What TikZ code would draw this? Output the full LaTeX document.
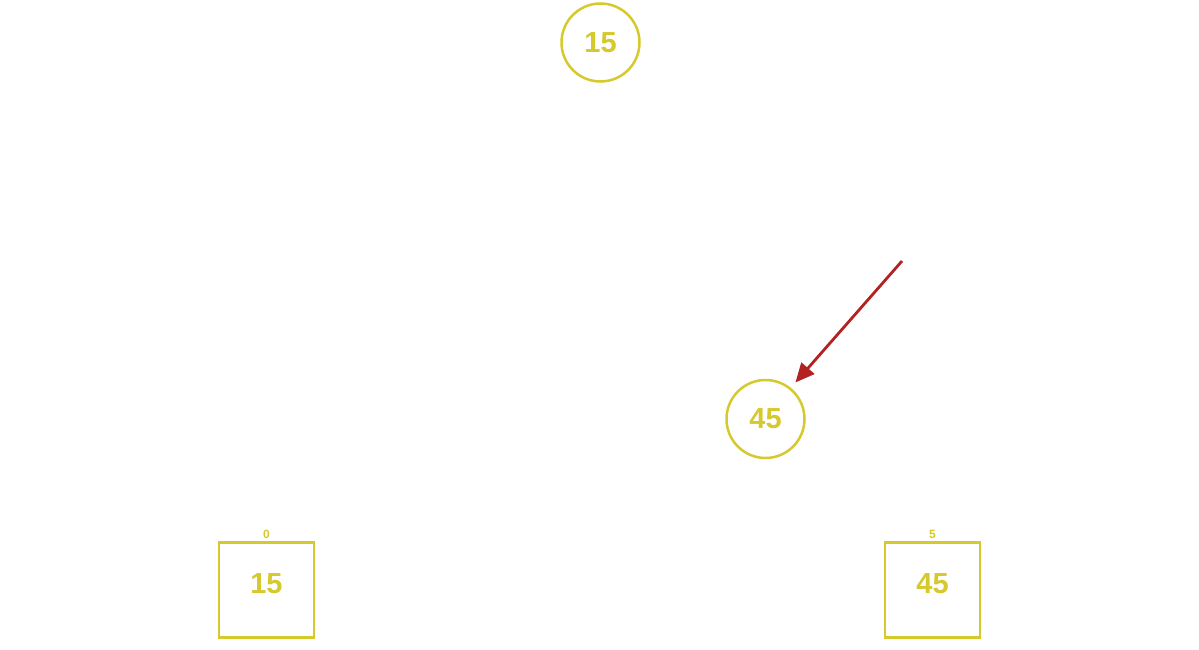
\documentclass[tikz,border=0pt]{standalone}
\usepackage{fontspec}
\setmainfont{Liberation Sans}
\usetikzlibrary{arrows.meta}
\definecolor{ylw}{RGB}{214,201,46}
\definecolor{arr}{RGB}{178,34,34}
\begin{document}
\begin{tikzpicture}[x=1pt,y=-1pt,
  circ/.style={circle,draw=ylw,line width=2.5pt,minimum size=78pt,inner sep=0pt,text=ylw,font=\fontsize{29}{29}\selectfont\bfseries},
  cell/.style={rectangle,draw=ylw,line width=2.5pt,minimum size=95pt,inner sep=0pt,text=ylw,text height=21pt,text depth=14pt,font=\fontsize{29}{29}\selectfont\bfseries},
  idx/.style={text=ylw,inner sep=0pt,font=\fontsize{12}{12}\selectfont\bfseries},
  pointer/.style={draw=arr,line width=2.8pt,-{Triangle[length=19pt,width=17pt]}}]
\useasboundingbox (0,0) rectangle (1199,650);
\node[circ] (c15) at (600.5,42.5) {15};
\node[circ] (c45) at (765.5,419) {45};
\node[cell] (b15) at (266.5,590) {15};
\node[cell] (b45) at (932.5,590) {45};
\node[idx] (i0) at (266.5,534) {0};
\node[idx] (i5) at (932.5,534) {5};
\coordinate (s) at (902,261);
\draw[pointer,shorten >=7pt] (s) -- (c45.51);
\end{tikzpicture}
\end{document}
